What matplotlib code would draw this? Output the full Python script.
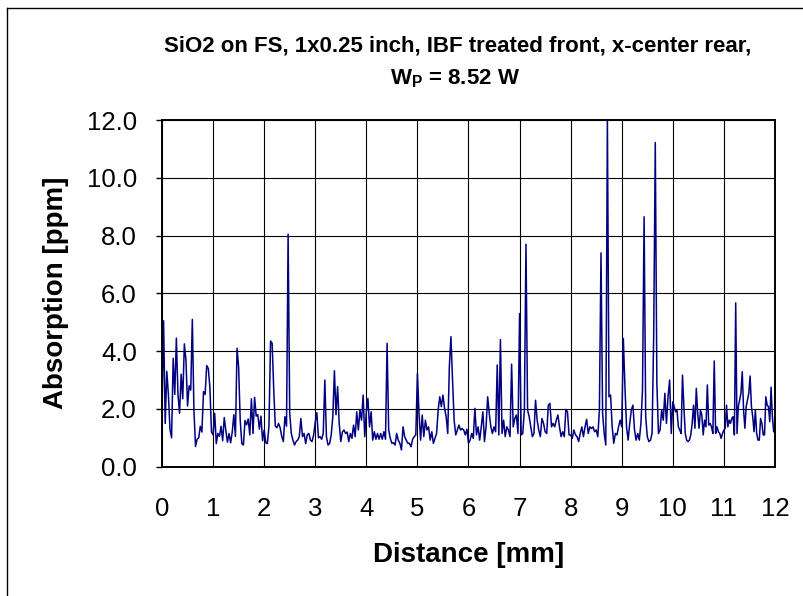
import numpy as np
import matplotlib
matplotlib.use('Agg')
import matplotlib.pyplot as plt
from matplotlib.lines import Line2D
from matplotlib.ticker import FormatStrFormatter

plt.rcParams['font.family'] = ['Liberation Sans', 'DejaVu Sans']
plt.rcParams['mathtext.fontset'] = 'custom'
plt.rcParams['mathtext.rm'] = 'Liberation Sans'
plt.rcParams['mathtext.bf'] = 'Liberation Sans:bold'

title_1 = 'SiO2 on FS, 1x0.25 inch, IBF treated front, x-center rear,'
title_2 = r'W$_{\mathbf{P}}$ = 8.52 W'
x_label = 'Distance [mm]'
y_label = 'Absorption [ppm]'

# absorption readings [ppm], one list per millimetre of scan
abs_00 = [2.0, 5.05, 1.5, 3.3, 2.5, 1.3, 1.0, 3.75, 2.5, 4.45, 2.5, 1.85, 3.2, 2.35, 4.25, 3.7,
          2.1, 2.8, 2.65, 5.1, 1.95, 0.7, 0.95, 1.0, 1.4, 1.2, 2.6, 2.5, 3.5, 3.4, 2.75, 1.2]
abs_01 = [1.1, 1.85, 0.8, 1.15, 1.05, 1.4, 0.9, 1.7, 1.25, 0.85, 1.15, 0.83, 1.2, 1.8, 1.05, 4.1,
          3.45, 1.6, 0.8, 0.75, 1.6, 1.45, 1.65, 1.1, 2.35, 1.15, 2.4, 1.75, 1.8, 1.3, 1.75, 0.9]
abs_02 = [1.27, 0.83, 0.8, 1.4, 4.35, 4.27, 2.65, 1.4, 1.35, 1.5, 1.35, 1.05, 0.87, 1.73, 1.4, 8.05,
          1.85, 1.15, 0.92, 0.75, 0.87, 0.92, 1.04, 1.67, 1.04, 1.15, 0.8, 1.1, 1.15, 0.92, 0.87, 1.1]
abs_03 = [1.55, 1.87, 1.0, 1.04, 0.95, 1.15, 3.0, 1.04, 0.75, 0.8, 1.1, 1.73, 3.32, 1.8, 2.77, 1.5,
          0.87, 1.2, 1.27, 1.15, 1.2, 0.87, 1.15, 0.98, 1.44, 1.04, 1.9, 1.27, 1.96, 1.61, 2.48, 1.04]
abs_04 = [1.9, 2.36, 1.38, 1.9, 0.92, 1.21, 0.95, 1.15, 0.95, 1.15, 0.95, 1.21, 0.95, 4.27, 1.27, 0.98,
          0.81, 0.83, 0.75, 1.15, 0.92, 0.81, 0.58, 1.38, 1.04, 0.92, 0.81, 0.81, 0.69, 0.95, 1.04, 1.1]
abs_05 = [3.23, 1.85, 0.92, 1.79, 1.04, 1.61, 1.27, 1.38, 0.92, 1.21, 0.81, 0.98, 1.15, 1.96, 2.42, 2.08,
          2.48, 2.02, 1.73, 1.15, 3.46, 4.5, 3.0, 1.61, 1.1, 1.27, 1.44, 1.27, 1.32, 1.27, 1.1, 1.3]
abs_06 = [0.81, 0.92, 1.15, 0.98, 2.02, 1.1, 1.38, 0.92, 1.38, 1.9, 0.87, 1.38, 2.42, 1.85, 1.38, 1.15,
          1.38, 1.21, 3.52, 1.1, 4.4, 1.15, 1.61, 1.04, 1.38, 1.27, 1.04, 3.55, 1.38, 1.67, 1.79, 1.15]
abs_07 = [5.3, 1.1, 1.15, 1.96, 7.7, 1.96, 1.73, 1.38, 1.04, 1.15, 2.3, 1.61, 1.27, 1.04, 1.67, 1.5,
          1.21, 1.15, 2.13, 2.19, 1.38, 1.5, 1.38, 1.61, 1.79, 1.38, 1.04, 1.21, 1.04, 1.98, 1.9, 1.1]
abs_08 = [1.1, 0.98, 1.27, 1.1, 1.04, 0.87, 1.15, 1.38, 1.04, 1.38, 1.64, 1.15, 1.38, 1.32, 1.38, 1.21,
          1.27, 1.04, 1.96, 7.4, 1.85, 1.15, 0.75, 12.0, 2.42, 2.48, 1.38, 0.81, 1.15, 1.1, 1.38, 1.61]
abs_09 = [1.38, 4.44, 2.77, 1.38, 0.92, 1.5, 1.96, 2.13, 1.27, 0.92, 1.15, 0.92, 1.5, 2.65, 8.65, 1.73,
          1.04, 0.87, 0.92, 1.15, 4.5, 11.22, 2.88, 1.15, 1.27, 1.96, 1.61, 2.54, 1.5, 2.42, 3.0, 1.15]
abs_10 = [2.25, 2.08, 1.9, 1.96, 1.38, 1.27, 1.15, 3.17, 2.08, 1.15, 0.92, 0.87, 0.92, 1.1, 1.5, 2.13,
          1.33, 2.71, 1.85, 1.33, 1.96, 1.79, 1.1, 1.61, 1.38, 2.83, 1.44, 1.5, 1.38, 1.15, 3.66, 1.15,
          1.38, 1.21, 1.15, 0.98, 1.15]
abs_11 = [1.27, 1.33, 2.13, 1.38, 1.61, 1.5, 1.67, 1.73, 1.1, 5.67, 1.15, 2.08, 2.31, 2.54, 3.29, 1.96,
          1.33, 2.08, 2.31, 2.54, 3.14, 2.08, 1.73, 1.21, 1.96, 1.15, 0.92, 0.92, 1.67, 1.5, 1.1, 1.1,
          2.42, 2.13, 2.08, 1.56, 2.75, 1.73, 1.21]
abs_end = 1.5

rows = [abs_00, abs_01, abs_02, abs_03, abs_04, abs_05,
        abs_06, abs_07, abs_08, abs_09, abs_10, abs_11]
dist = []
absorption = []
for mm, row in enumerate(rows):
    for k, v in enumerate(row):
        dist.append(mm + k / len(row))
        absorption.append(v)
dist.append(12.0)
absorption.append(abs_end)

W, H = 804, 596
fig = plt.figure(figsize=(W / 100, H / 100), dpi=100)
ax = fig.add_axes([162 / W, (H - 466.7) / H, 613 / W, 346.7 / H])

ax.plot(dist, absorption, color='#000080', lw=1.1)

ax.set_xlim(0, 12)
ax.set_ylim(0, 12)
ax.set_xticks(range(13))
ax.set_yticks(np.arange(0, 12.1, 2))
ax.yaxis.set_major_formatter(FormatStrFormatter('%.1f'))
ax.set_axisbelow(True)
ax.grid(True, color='black', lw=0.8)
ax.tick_params(axis='x', length=0, pad=22, labelsize=18.5)
ax.tick_params(axis='y', length=4, width=1, direction='out', pad=14, labelsize=18.5)
for s in ax.spines.values():
    s.set_linewidth(1.4)

fig.text(469 / W, 1 - 555 / H, x_label, ha='center', va='center', fontsize=20, fontweight='bold')
fig.text(56 / W, 1 - 293 / H, y_label, ha='center', va='center', rotation=90,
         fontsize=20, fontweight='bold')
fig.text(458 / W, 1 - 46 / H, title_1, ha='center', va='center', fontsize=16, fontweight='bold')
fig.text(455 / W, 1 - 79 / H, title_2, ha='center', va='center', fontsize=16, fontweight='bold')

# outer chart frame (only left and top edges visible)
fig.add_artist(Line2D([7.5 / W, 7.5 / W], [0, 1 - 7.5 / H], transform=fig.transFigure, color='black', lw=1))
fig.add_artist(Line2D([7.5 / W, 1], [1 - 7.5 / H, 1 - 7.5 / H], transform=fig.transFigure, color='black', lw=1))

fig.savefig('out.png', dpi=100)
